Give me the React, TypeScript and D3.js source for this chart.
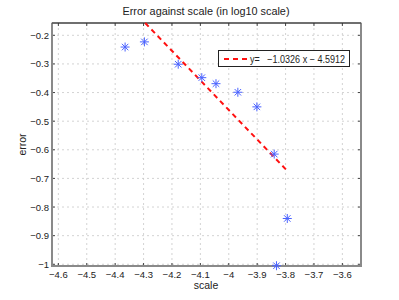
import React from 'react';
import { scaleLinear, line } from 'd3';

// scatter data (log10 scale vs log10 error)
const scaleVals = [-4.365, -4.297, -4.178, -4.095, -4.045, -3.968, -3.901, -3.840, -3.794, -3.832];
const errorVals = [-0.241, -0.223, -0.301, -0.348, -0.369, -0.399, -0.450, -0.615, -0.840, -1.005];

// fitted line y = slope * x + intercept
const slope = -1.0326;
const intercept = -4.5912;
const fitLabel = 'y=   \u22121.0326 x \u2212 4.5912';

const xTicks = [-4.6, -4.5, -4.4, -4.3, -4.2, -4.1, -4, -3.9, -3.8, -3.7, -3.6];
const yTicks = [-0.2, -0.3, -0.4, -0.5, -0.6, -0.7, -0.8, -0.9, -1];

const W = 399;
const H = 300;
const margin = { top: 23, right: 38, bottom: 34, left: 52 };
const font = '"Liberation Sans", Arial, sans-serif';

const fmt = (v: number) => {
  const s = String(Math.round(v * 10) / 10);
  return s.replace('-', '\u2212');
};

export default function App() {
  const x = scaleLinear().domain([-4.6224, -3.5344]).range([margin.left, W - margin.right]);
  const y = scaleLinear().domain([-0.157, -1.006]).range([margin.top, H - margin.bottom]);
  const [x0, x1] = x.range();
  const [y0, y1] = y.range();

  // fit line between data extremes, clipped to top of axes
  const xs = Math.max(Math.min(...scaleVals), (y.domain()[0] - intercept) / slope);
  const xe = Math.max(...scaleVals);
  const fitPts: [number, number][] = [xs, xe].map((v) => [v, slope * v + intercept]);
  const fitPath = line<[number, number]>().x((d) => x(d[0])).y((d) => y(d[1]))(fitPts) || '';

  const star = (cx: number, cy: number, i: number) => {
    const r = 4.5;
    const d = r * 0.72;
    return (
      <g key={i} stroke="#4a62ff" strokeWidth={1}>
        <line x1={cx - r} y1={cy} x2={cx + r} y2={cy} />
        <line x1={cx} y1={cy - r} x2={cx} y2={cy + r} />
        <line x1={cx - d} y1={cy - d} x2={cx + d} y2={cy + d} />
        <line x1={cx - d} y1={cy + d} x2={cx + d} y2={cy - d} />
      </g>
    );
  };

  return (
    <svg width={W} height={H} style={{ position: 'absolute', left: 0, top: 0, background: '#fff' }} fontFamily={font}>
      <rect x={x0} y={y0} width={x1 - x0} height={y1 - y0} fill="#fff" />
      {/* grid */}
      {xTicks.map((t) => (
        <line key={'gx' + t} x1={x(t)} x2={x(t)} y1={y0} y2={y1} stroke="#c8c8c8" strokeWidth={0.8} strokeDasharray="2,3" />
      ))}
      {yTicks.map((t) => (
        <line key={'gy' + t} x1={x0} x2={x1} y1={y(t)} y2={y(t)} stroke="#c8c8c8" strokeWidth={0.8} strokeDasharray="2,3" />
      ))}
      {/* ticks on all sides */}
      {xTicks.map((t) => (
        <g key={'tx' + t} stroke="#444" strokeWidth={1}>
          <line x1={x(t)} x2={x(t)} y1={y1} y2={y1 - 3} />
          <line x1={x(t)} x2={x(t)} y1={y0} y2={y0 + 3} />
        </g>
      ))}
      {yTicks.map((t) => (
        <g key={'ty' + t} stroke="#444" strokeWidth={1}>
          <line x1={x0} x2={x0 + 3} y1={y(t)} y2={y(t)} />
          <line x1={x1} x2={x1 - 3} y1={y(t)} y2={y(t)} />
        </g>
      ))}
      {/* axes box */}
      <rect x={x0} y={y0} width={x1 - x0} height={y1 - y0} fill="none" stroke="#333" strokeWidth={0.8} />
      <line x1={x0} x2={x0} y1={y0} y2={y1 + 1} stroke="#8a8a8a" strokeWidth={2} />
      <line x1={x0 - 1} x2={x1 + 1} y1={y1} y2={y1} stroke="#8a8a8a" strokeWidth={2} />
      <line x1={x1} x2={x1} y1={y0} y2={y1} stroke="#8a8a8a" strokeWidth={2} />
      <line x1={x0} x2={x1} y1={y0} y2={y0} stroke="#333" strokeWidth={1} />

      {/* fit line */}
      <path d={fitPath} fill="none" stroke="#ff1010" strokeWidth={2} strokeDasharray="5,4" />

      {/* points */}
      {scaleVals.map((v, i) => star(x(v), y(errorVals[i]), i))}

      {/* tick labels */}
      {xTicks.map((t) => (
        <text key={'lx' + t} x={x(t)} y={y1 + 11.5} fontSize={9.5} textAnchor="middle" fill="#222">
          {fmt(t)}
        </text>
      ))}
      {yTicks.map((t) => (
        <text key={'ly' + t} x={x0 - 3} y={y(t) + 3.5} fontSize={9.5} textAnchor="end" fill="#222">
          {fmt(t)}
        </text>
      ))}

      {/* legend */}
      <rect x={218.5} y={50.5} width={131} height={16} fill="#fff" stroke="#222" strokeWidth={1} />
      <line x1={224} x2={249} y1={59} y2={59} stroke="#ff1010" strokeWidth={2} strokeDasharray="5,4" />
      <text x={250} y={62.5} fontSize={10} fill="#222" style={{ whiteSpace: 'pre' }} textLength={95} lengthAdjust="spacingAndGlyphs">
        {fitLabel}
      </text>

      {/* titles */}
      <text x={206} y={15} fontSize={11} textAnchor="middle" fill="#222" textLength={167} lengthAdjust="spacingAndGlyphs">
        Error against scale (in log10 scale)
      </text>
      <text x={206} y={289} fontSize={10.5} textAnchor="middle" fill="#222">
        scale
      </text>
      <text transform={`translate(26,${(y0 + y1) / 2}) rotate(-90)`} fontSize={10.5} textAnchor="middle" fill="#222">
        error
      </text>
    </svg>
  );
}
